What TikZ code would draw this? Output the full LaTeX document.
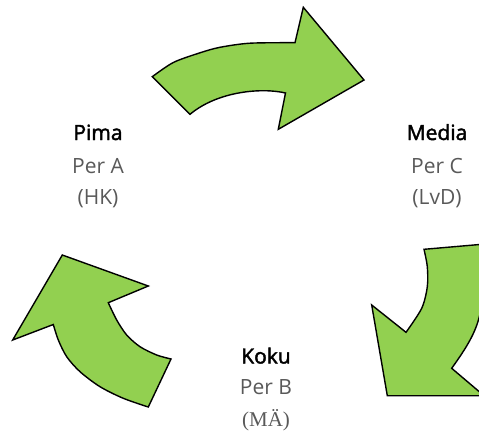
\documentclass[tikz,border=0pt]{standalone}
\usepackage{fontspec}
\setmainfont{Open Sans}
\newfontfamily\semibfam[FakeBold=2]{Open Sans}
\newfontfamily\seriffam{Liberation Serif}
\definecolor{arrowgreen}{HTML}{92D050}
\definecolor{subgray}{HTML}{595959}
\begin{document}
\begin{tikzpicture}[x=1pt,y=-1pt,
  cyclearrow/.style={fill=arrowgreen, draw=black, line width=1.4pt, line join=miter},
  titletext/.style={anchor=base, font=\fontsize{21}{21}\selectfont\semibfam, text=black, inner sep=0pt},
  subtext/.style={anchor=base, font=\fontsize{21}{21}\selectfont, text=subgray, inner sep=0pt}]
\useasboundingbox (0,0) rectangle (479,434);
\clip (0,0) rectangle (479,434);
% top arrow
\draw[cyclearrow] plot[smooth] coordinates {(152.3,76.7) (173.3,62.5) (200,52.8) (220,47.3) (250,43.2) (295,42.7)}
  -- (303.3,7.3) -- (364,80) -- (278.3,129.3) -- (285.5,93)
  .. controls (262,87.5) and (218,91) .. (190,114.3) -- cycle;
% right arrow
\draw[cyclearrow] (424,249.3) -- (497,243) -- (497,291) -- (482.4,291)
  .. controls (483,300) and (481.3,309.3) .. (479,318)
  .. controls (474.2,336.4) and (462.7,352.8) .. (451.7,368.3)
  -- (484,395.7) -- (387.3,395.7) -- (371.7,305) -- (406,332.3)
  -- plot[smooth] coordinates {(406,332.3) (421.7,308.3) (427.3,286.7) (427.3,266.7) (424,249.3)} -- cycle;
% left arrow
\draw[cyclearrow] (171,359) -- (148.3,407)
  -- plot[smooth] coordinates {(148.3,407) (123.3,398.3) (100,386.7) (80,371.7) (66.7,356.7) (58.3,340) (53.3,324.5)}
  -- (12.7,340) -- (62.3,255) -- (148.3,286) -- (108.3,302.7)
  -- plot[smooth] coordinates {(108.3,302.7) (116.7,320) (126.7,335) (140,346.7) (156.7,355) (171,359)} -- cycle;
% texts
\node[titletext] (pimaT) at (98,140) {Pima};
\node[subtext] (pimaP) at (98,173) {Per A};
\node[subtext] (pimaI) at (98,204) {(HK)};
\node[titletext] (mediaT) at (437,140) {Media};
\node[subtext] (mediaP) at (437,173) {Per C};
\node[subtext] (mediaI) at (437,204) {(LvD)};
\node[titletext] (kokuT) at (266,363.5) {Koku};
\node[subtext] (kokuP) at (266,394.5) {Per B};
\node[subtext] (kokuI) at (266,426.5) {\seriffam (MÄ)};
\end{tikzpicture}
\end{document}
